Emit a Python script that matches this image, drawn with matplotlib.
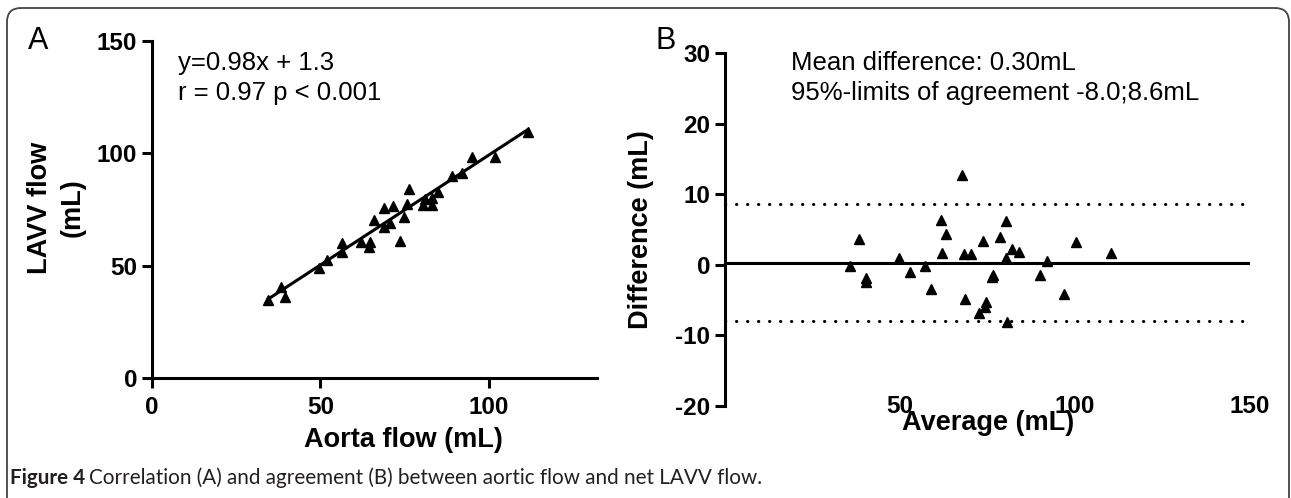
import matplotlib
matplotlib.use("Agg")
import matplotlib.pyplot as plt
from matplotlib.patches import FancyBboxPatch
from matplotlib.transforms import IdentityTransform
from matplotlib.font_manager import FontProperties

plt.rcParams["axes.unicode_minus"] = False

# Panel A: aortic flow vs LAVV flow (mL)
aorta_flow = [34.5, 38.4, 39.4, 49.6, 52.1, 56.5, 56.5, 62.0, 64.6, 64.5,
              65.8, 68.9, 71.4, 68.9, 70.7, 74.9, 73.7, 75.6, 76.4, 80.4,
              80.9, 83.1, 83.0, 84.8, 89.0, 92.0, 94.9, 101.9, 111.6]
lavv_flow = [34.5, 40.4, 35.9, 48.9, 52.6, 60.0, 56.3, 60.7, 60.4, 58.2,
             70.4, 75.6, 76.7, 67.4, 68.9, 71.6, 60.9, 77.3, 84.1, 77.0,
             79.7, 77.0, 80.0, 83.0, 90.1, 91.1, 98.5, 98.5, 109.6]
slope, intercept = 0.98, 1.3

# Panel B: Bland-Altman (average vs difference, mL)
ba_average = [35.6, 38.4, 40.3, 40.4, 49.8, 52.9, 57.0, 58.9, 61.7, 63.2,
              61.9, 67.6, 68.4, 70.3, 68.6, 73.7, 74.6, 74.2, 72.7, 76.7,
              76.4, 78.7, 80.2, 80.3, 80.5, 82.1, 84.1, 89.9, 91.9, 96.9,
              100.2, 110.4]
ba_difference = [-0.2, 3.7, -1.8, -2.4, 0.9, -1.0, -0.1, -3.4, 6.3, 4.3,
                 1.7, 12.7, 1.5, 1.5, -4.8, 3.4, -5.2, -6.0, -6.8, -1.5,
                 -1.7, 3.9, 6.2, 0.9, -8.1, 2.2, 1.8, -1.5, 0.6, -4.1,
                 3.3, 1.7]
mean_diff = 0.30
loa_low, loa_high = -8.0, 8.6

a_xticks = [0, 50, 100]
a_yticks = [0, 50, 100, 150]
b_xticks = [50, 100, 150]
b_yticks = [-20, -10, 0, 10, 20, 30]

W, H = 1291, 498
SANS = ["Liberation Sans", "DejaVu Sans"]
TICK_FONT = dict(family=SANS, weight="bold", size=17.5)
LABEL_FONT = dict(family=SANS, weight="bold", size=19.5)
NOTE_FONT = dict(family=SANS, size=18.5)
LW = 2.2


def fx(px):
    return px / W


def fy(py):
    return 1 - py / H


def style_axis(ax):
    for s in ["top", "right"]:
        ax.spines[s].set_visible(False)
    for s in ["left", "bottom"]:
        ax.spines[s].set_linewidth(LW)
    ax.tick_params(width=LW, length=7, direction="out")
    for lab in ax.get_xticklabels() + ax.get_yticklabels():
        lab.set_fontproperties(FontProperties(**TICK_FONT))


fig = plt.figure(figsize=(W / 100, H / 100), dpi=100)

# rounded frame round the figure (bottom edge runs off the image)
frame = FancyBboxPatch((7, -40), 1282, H - 8 + 40,
                       boxstyle="round,pad=0,rounding_size=14",
                       transform=IdentityTransform(), fill=False,
                       edgecolor="#444444", linewidth=1.3)
fig.add_artist(frame)

# ---- Panel A ----
axA = fig.add_axes([fx(151.7), fy(378), fx(597 - 151.7), (378 - 41) / H])
axA.plot(aorta_flow, lavv_flow, linestyle="none", marker="^", ms=7,
         color="black", clip_on=False)
x_fit = [min(aorta_flow), max(aorta_flow)]
axA.plot(x_fit, [slope * x + intercept for x in x_fit], color="black", lw=LW)
axA.set_xlim(0, 132)
axA.set_ylim(0, 150)
axA.set_xticks(a_xticks)
axA.set_yticks(a_yticks)
style_axis(axA)
axA.tick_params(axis="x", pad=6)
axA.tick_params(axis="y", pad=3.5)

fig.text(fx(178), fy(63), "y=0.98x + 1.3", va="center", ha="left", **NOTE_FONT)
fig.text(fx(178), fy(93), "r = 0.97 p < 0.001", va="center", ha="left", **NOTE_FONT)
fig.text(fx(403), fy(440), "Aorta flow (mL)", ha="center", va="center", **LABEL_FONT)
fig.text(fx(40), fy(208), "LAVV flow", ha="center", va="center", rotation=90, **LABEL_FONT)
fig.text(fx(73), fy(208), "(mL)", ha="center", va="center", rotation=90, **LABEL_FONT)
fig.text(fx(28), fy(41), "A", ha="left", va="center", family=SANS, size=22)

# ---- Panel B ----
axB = fig.add_axes([fx(725), fy(406), fx(1250 - 725), (406 - 53) / H])
axB.plot(ba_average, ba_difference, linestyle="none", marker="^", ms=7,
         color="black", clip_on=False)
axB.axhline(mean_diff, color="black", lw=LW)
for lim in (loa_low, loa_high):
    axB.axhline(lim, color="black", lw=LW, linestyle=(0, (0.1, 3.5)),
                dash_capstyle="round")
axB.set_xlim(0, 150)
axB.set_ylim(-20, 30)
axB.set_xticks(b_xticks)
axB.set_yticks(b_yticks)
style_axis(axB)
axB.spines["bottom"].set_visible(False)
axB.tick_params(axis="x", length=0, pad=-8)
axB.tick_params(axis="y", pad=3.5)

fig.text(fx(791), fy(63), "Mean difference: 0.30mL", va="center", ha="left", **NOTE_FONT)
fig.text(fx(791), fy(93), "95%-limits of agreement -8.0;8.6mL", va="center", ha="left", **NOTE_FONT)
fig.text(fx(988), fy(423), "Average (mL)", ha="center", va="center", **LABEL_FONT)
fig.text(fx(641), fy(230), "Difference (mL)", ha="center", va="center", rotation=90, **LABEL_FONT)
fig.text(fx(655), fy(41), "B", ha="left", va="center", family=SANS, size=22)

# ---- caption, sized so it runs to the same width as the original ----
cap_family = ["Lato", "DejaVu Sans"]
cap_color = "#231f20"
cap_rest = "Correlation (A) and agreement (B) between aortic flow and net LAVV flow."
cap_size = 13.0
t1 = fig.text(fx(10), fy(478), "Figure 4", ha="left", va="center", weight="bold",
              family=cap_family, size=cap_size, color=cap_color)
t2 = fig.text(0, fy(478), cap_rest, ha="left", va="center",
              family=cap_family, size=cap_size, color=cap_color)
fig.canvas.draw()
total = t1.get_window_extent().width + 4 + t2.get_window_extent().width
cap_size *= (757 - 10) / total
t1.set_fontsize(cap_size)
t2.set_fontsize(cap_size)
fig.canvas.draw()
t2.set_x((t1.get_window_extent().x1 + 4) / W)

fig.savefig("out.png", dpi=100)
